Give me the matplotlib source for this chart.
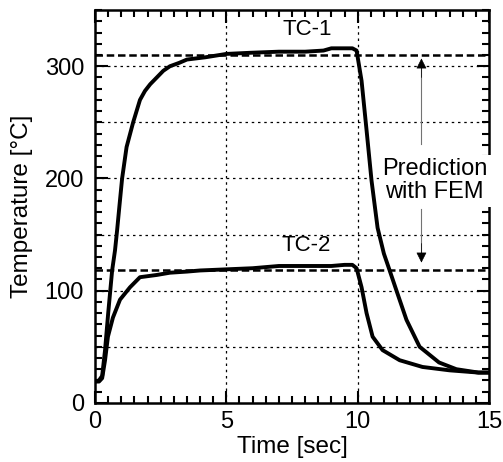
import matplotlib.pyplot as plt
import numpy as np

t_tc1 = [0.0, 0.15, 0.27, 0.38, 0.5, 0.65, 0.76, 0.84, 0.93, 1.03, 1.2, 1.45, 1.71, 1.9, 2.1,
         2.35, 2.6, 2.85, 3.2, 3.5, 4.2, 5.0, 5.9, 7.0, 8.0, 8.7, 9.0, 9.4, 9.8, 9.96,
         10.15, 10.34, 10.53, 10.76, 11.0, 11.22, 11.48, 11.86, 12.36, 13.1, 13.76, 14.6, 15.0]
T_tc1 = [19, 20, 24, 47, 80, 118, 136, 154, 176, 200, 228, 250, 270, 278, 284,
         290, 296, 300, 303, 306, 308, 311, 312, 313, 313, 314, 316, 316, 316, 314,
         287, 243, 198, 156, 133, 118, 100, 74, 50, 36, 30, 27, 27]

t_tc2 = [0.0, 0.15, 0.27, 0.38, 0.49, 0.68, 0.95, 1.33, 1.71, 2.35, 2.85, 3.5, 4.0, 5.0, 6.0,
         7.0, 8.0, 9.0, 9.5, 9.8, 9.96, 10.15, 10.34, 10.57, 10.95, 11.6, 12.47, 13.5, 14.6, 15.0]
T_tc2 = [19, 19, 22, 38, 59, 76, 92, 103, 112, 114, 116, 117, 118, 119, 120,
         122, 122, 122, 123, 123, 120, 103, 80, 59, 47, 38, 32, 29, 27, 27]

pred_tc1 = 310
pred_tc2 = 118

plt.rcParams['font.family'] = ['Liberation Sans', 'DejaVu Sans']

fig = plt.figure(figsize=(5.03, 4.62), dpi=100)
ax = fig.add_axes([0.189, 0.128, 0.783, 0.850])

ax.plot(t_tc1, T_tc1, color='k', lw=2.8, zorder=5, solid_joinstyle='round')
ax.plot(t_tc2, T_tc2, color='k', lw=2.8, zorder=5, solid_joinstyle='round')

# FEM predictions
ax.axhline(pred_tc1, color='k', lw=1.8, ls=(0, (3, 1.5)), zorder=2)
ax.axhline(pred_tc2, color='k', lw=1.8, ls=(0, (3, 1.5)), zorder=2)

ax.set_xlim(0, 15)
ax.set_ylim(0, 350)
ax.set_xticks([0, 5, 10, 15])
ax.set_yticks([0, 100, 200, 300])
ax.set_xticks(np.arange(0, 15.01, 0.5), minor=True)
ax.set_yticks(np.arange(0, 350.1, 10), minor=True)
ax.tick_params(which='both', direction='in', top=True, right=True, labelsize=17, width=1.5)
ax.tick_params(which='major', length=9)
ax.tick_params(which='minor', length=5)
ax.tick_params(axis='y', which='major', pad=8)
ax.tick_params(axis='x', which='major', pad=6)

for y in [50, 100, 150, 200, 250, 300]:
    ax.axhline(y, color='k', lw=0.9, ls=(0, (2, 3)), zorder=1)
for x in [5, 10]:
    ax.axvline(x, color='k', lw=0.9, ls=(0, (2, 3)), zorder=1)

for s in ax.spines.values():
    s.set_linewidth(1.8)

ax.set_xlabel('Time [sec]', fontsize=17.5, labelpad=2)
ax.set_ylabel('Temperature [°C]', fontsize=17.5, labelpad=8)

ax.text(8.1, 333, 'TC-1', fontsize=16, ha='center', va='center')
ax.text(8.05, 140, 'TC-2', fontsize=16, ha='center', va='center')
ax.text(12.94, 198, 'Prediction\nwith FEM', fontsize=17, ha='center', va='center',
        linespacing=1.05, zorder=4, clip_on=False,
        bbox=dict(boxstyle='square,pad=0.15', fc='white', ec='none'))

# arrows: thin grey shaft, black head
ax.plot([12.43, 12.43], [231, 300], color='0.45', lw=0.8)
ax.plot([12.43, 12.43], [173, 132], color='0.45', lw=0.8)
ax.annotate('', xy=(12.43, 307), xytext=(12.43, 290),
            arrowprops=dict(arrowstyle='-|>', color='k', lw=0.5, mutation_scale=16,
                            shrinkA=0, shrinkB=0))
ax.annotate('', xy=(12.43, 125), xytext=(12.43, 142),
            arrowprops=dict(arrowstyle='-|>', color='k', lw=0.5, mutation_scale=16,
                            shrinkA=0, shrinkB=0))

fig.savefig('out.png', dpi=100)
